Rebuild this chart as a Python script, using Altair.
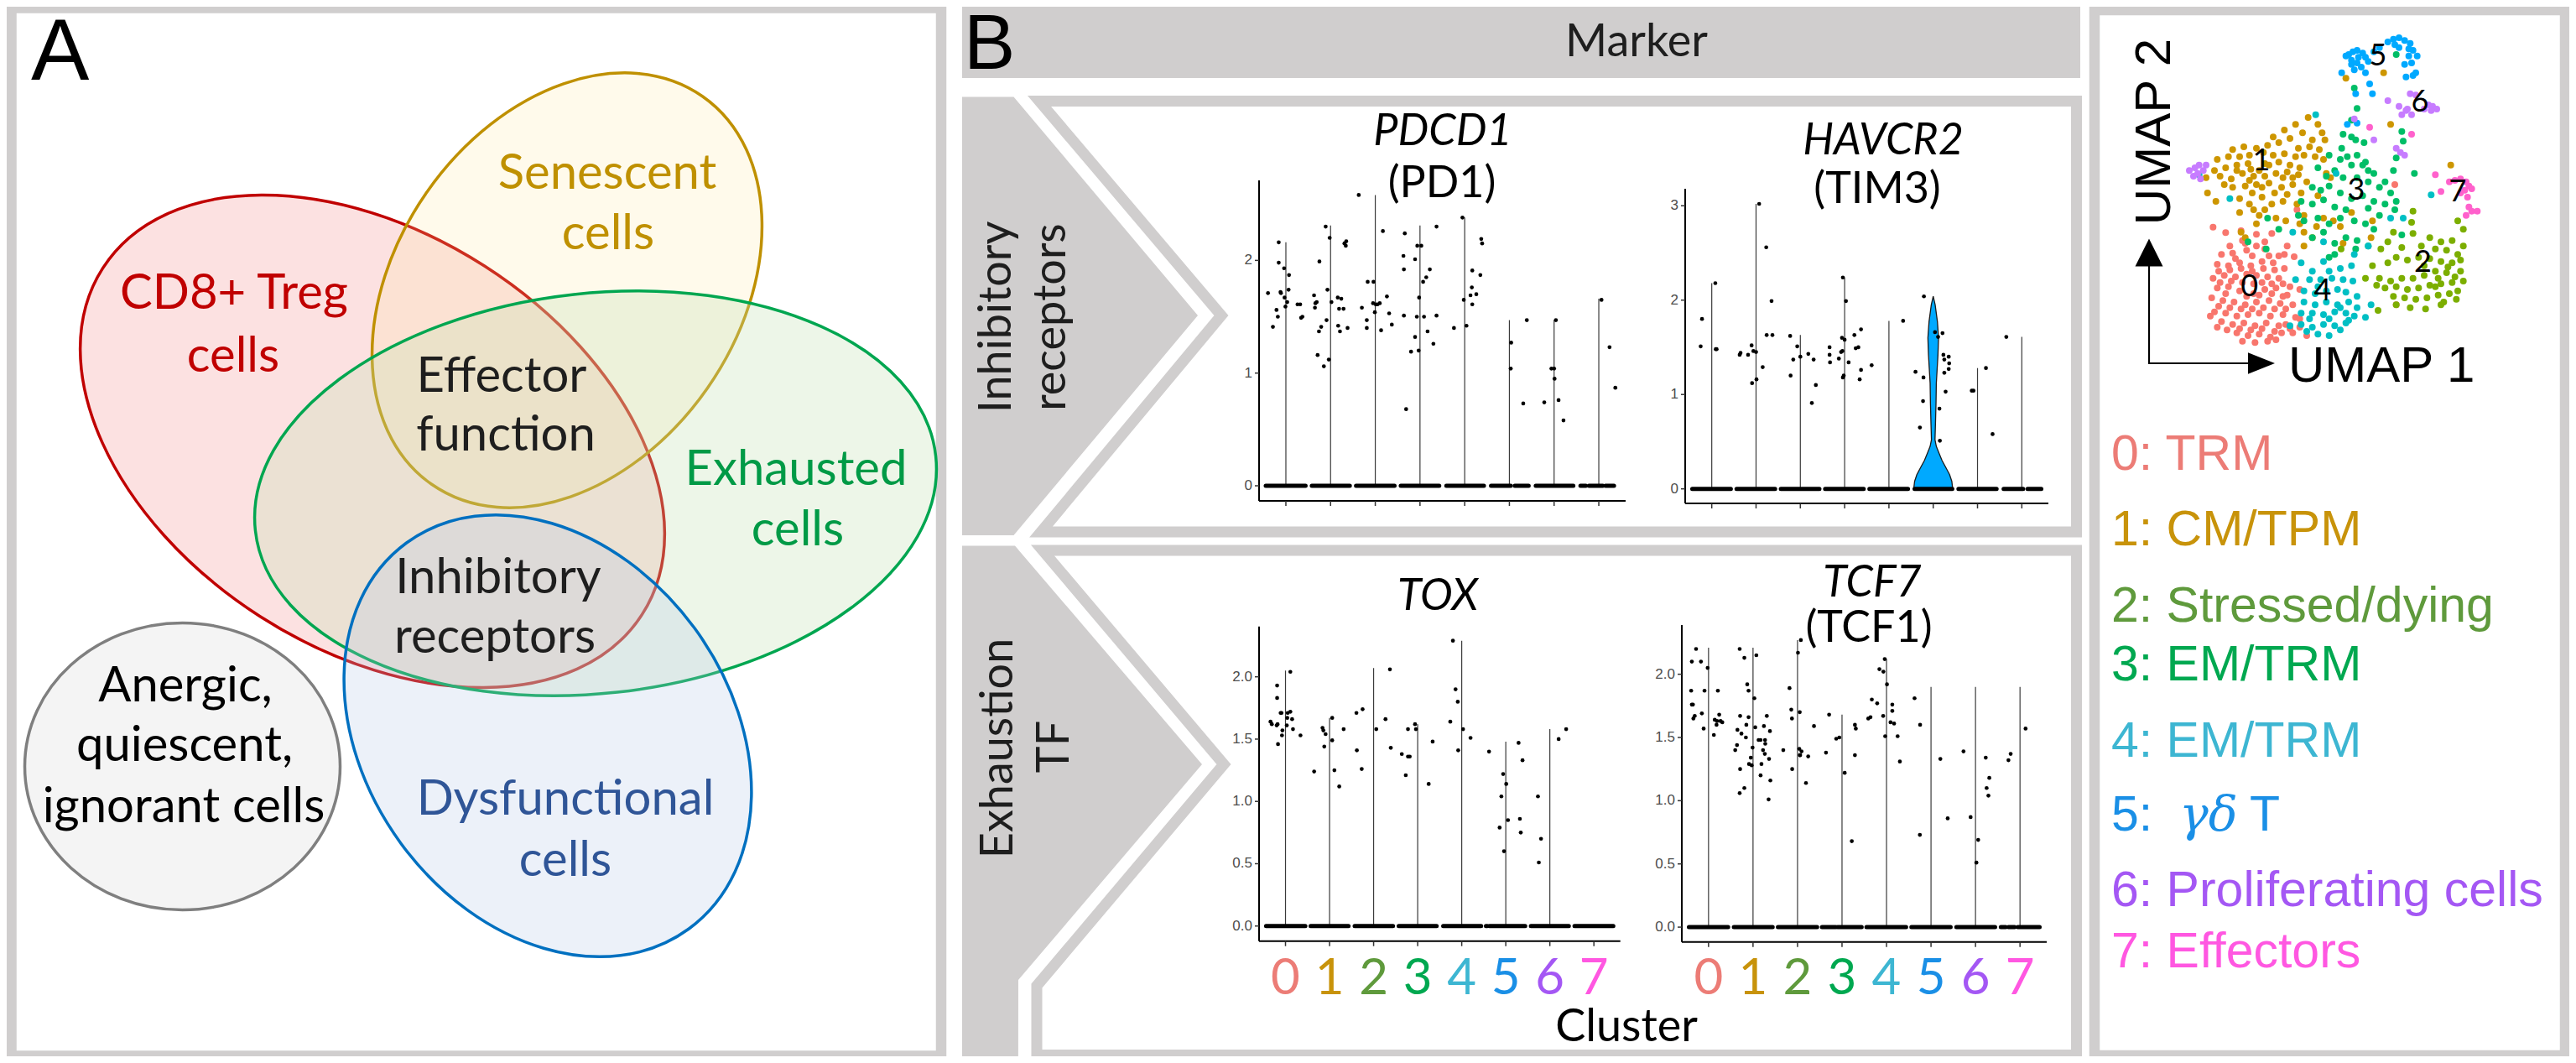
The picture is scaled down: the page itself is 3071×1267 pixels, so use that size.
import altair as alt
import pandas as pd

# ------------------------------------------------------------------ data
CLUSTERS = [0, 1, 2, 3, 4, 5, 6, 7]
LEGEND_TEXT = ["0: TRM", "1: CM/TPM", "2: Stressed/dying", "3: EM/TRM", "4: EM/TRM",
               "5:", "6: Proliferating cells", "7: Effectors"]
POINT_COLORS = ["#F8766D", "#CD9600", "#7CAE00", "#00BE67", "#00BFC4", "#00A9FF", "#C77CFF", "#FF61CC"]
TEXT_COLORS = ["#EC7C76", "#C8930A", "#5F9A3C", "#00A850", "#3DB6D2", "#1A8FE6", "#A457F4", "#FF57E1"]

# violin tops (max expression per cluster) and jittered cells (jitter, value) per cluster
PDCD1_TOP = [2.16, 2.31, 2.58, 2.31, 2.38, 1.47, 1.47, 1.66]
PDCD1_PTS = [
    [(-0.40, 1.71), (-0.29, 1.41), (-0.21, 1.56), (-0.18, 1.50), (-0.16, 2.16), (-0.16, 1.98), (-0.12, 1.72),
     (-0.11, 1.71), (-0.04, 1.93), (-0.03, 1.67), (-0.01, 1.59), (0.03, 1.63), (0.06, 1.74), (0.07, 1.87),
     (0.26, 1.61), (0.32, 1.61), (0.34, 1.49), (0.37, 1.50)],
    [(-0.37, 1.69), (-0.35, 1.58), (-0.34, 1.62), (-0.31, 1.63), (-0.29, 1.16), (-0.25, 1.99), (-0.26, 1.37),
     (-0.21, 1.41), (-0.15, 1.06), (-0.11, 2.30), (-0.09, 1.47), (-0.07, 1.74), (-0.04, 1.12), (-0.02, 2.20),
     (0.02, 1.63), (0.16, 1.67), (0.17, 1.42), (0.19, 1.57), (0.21, 1.37), (0.24, 1.66), (0.29, 1.57),
     (0.31, 2.15), (0.35, 2.17), (0.34, 2.13), (0.38, 1.40)],
    [(-0.37, 2.58), (-0.30, 1.58), (-0.19, 1.47), (-0.19, 1.40), (-0.17, 1.81), (-0.04, 1.81), (-0.05, 1.62),
     (-0.01, 1.54), (0.01, 1.61), (0.05, 1.61), (0.10, 1.62), (0.13, 1.38), (0.17, 2.26), (0.26, 1.68),
     (0.31, 1.53), (0.37, 1.43)],
    [(-0.37, 2.04), (-0.36, 1.92), (-0.36, 1.51), (-0.34, 2.24), (-0.31, 0.68), (-0.20, 1.19), (-0.11, 2.01),
     (-0.11, 1.32), (-0.07, 1.50), (-0.03, 1.20), (-0.02, 1.67), (-0.06, 2.13), (0.03, 2.13), (0.07, 1.81),
     (0.09, 1.50), (0.14, 1.85), (0.17, 1.37), (0.22, 1.92), (0.30, 1.26), (0.37, 2.30), (0.37, 1.51)],
    [(-0.24, 1.40), (-0.05, 2.38), (-0.02, 1.65), (0.04, 1.42), (0.13, 1.69), (0.16, 1.76), (0.17, 1.91),
     (0.17, 1.61), (0.26, 1.70), (0.35, 1.87), (0.37, 2.19), (0.39, 2.15)],
    [(0.04, 1.27), (0.03, 1.04), (0.31, 0.73), (0.39, 1.47)],
    [(-0.22, 0.74), (-0.06, 1.04), (0.00, 1.04), (0.01, 0.95), (0.04, 1.47), (0.10, 0.76), (0.21, 0.58)],
    [(0.06, 1.65), (0.24, 1.23), (0.37, 0.87)],
]
PDCD1_ZERO = [[(-0.45, 0.44)], [(-0.42, 0.43)], [(-0.43, 0.43)], [(-0.43, 0.43)], [(-0.41, 0.43)],
              [(-0.41, 0.03), (0.12, 0.43)], [(-0.41, 0.43)], [(-0.41, -0.29), (-0.22, 0.09), (0.15, 0.34)]]

HAVCR2_TOP = [2.18, 3.02, 1.63, 2.24, 1.78, None, 1.28, 1.61]
HAVCR2_PTS = [
    [(-0.25, 1.51), (-0.22, 1.80), (0.08, 2.18), (0.09, 1.48), (0.11, 1.48)],
    [(-0.37, 1.42), (-0.35, 1.44), (-0.18, 1.42), (-0.10, 1.52), (-0.09, 1.12), (-0.06, 1.46), (0.00, 1.45),
     (0.01, 1.16), (0.07, 3.02), (0.15, 1.29), (0.23, 2.56), (0.24, 1.63), (0.35, 1.99), (0.37, 1.63)],
    [(-0.23, 1.62), (-0.22, 1.20), (-0.16, 1.37), (-0.07, 1.51), (0.00, 1.40), (0.18, 1.43), (0.26, 0.91),
     (0.30, 1.37), (0.35, 1.10)],
    [(-0.34, 1.50), (-0.34, 1.42), (-0.33, 1.34), (-0.13, 1.38), (-0.08, 1.45), (-0.05, 1.46), (-0.06, 1.60),
     (-0.04, 2.24), (-0.04, 1.18), (-0.02, 1.20), (0.00, 1.58), (0.03, 1.99), (0.09, 1.34), (0.22, 1.63),
     (0.25, 1.49), (0.31, 1.50), (0.34, 1.16), (0.37, 1.69), (0.37, 1.26)],
    [(-0.39, 1.31), (0.32, 1.78)],
    [(-0.40, 1.24), (-0.30, 0.65), (-0.23, 0.93), (-0.22, 1.18), (-0.21, 2.04), (0.04, 1.66), (0.11, 1.61),
     (0.14, 0.85), (0.15, 0.51), (0.21, 1.65), (0.23, 1.42), (0.25, 1.37), (0.25, 1.23), (0.28, 1.03),
     (0.35, 1.40), (0.36, 1.33), (0.35, 1.27)],
    [(-0.13, 1.04), (-0.09, 1.04), (0.19, 1.28), (0.34, 0.58)],
    [(-0.35, 1.61)],
]
HAVCR2_ZERO = [[(-0.44, 0.43)], [(-0.44, 0.43)], [(-0.44, 0.43)], [(-0.44, 0.43)], [(-0.44, 0.43)],
               [(-0.42, 0.43)], [(-0.43, 0.43)], [(-0.41, 0.03), (0.13, 0.44)]]
# visible violin of cluster 5 (HAVCR2): expression value and half width
HAVCR2_VIOLIN_V = [0, 0.08, 0.15, 0.23, 0.30, 0.38, 0.45, 0.52, 0.68, 0.91, 1.12, 1.42, 1.60, 1.77, 1.95, 2.04]
HAVCR2_VIOLIN_W = [0.44, 0.42, 0.37, 0.28, 0.20, 0.13, 0.07, 0.04, 0.05, 0.063, 0.07, 0.107, 0.12, 0.095, 0.044, 0.0]

TOX_TOP = [2.05, 1.67, 2.07, 1.62, 2.29, 1.48, 1.58, None]
TOX_PTS = [
    [(-0.34, 1.64), (-0.31, 1.62), (-0.20, 1.61), (-0.18, 1.62), (-0.19, 1.93), (-0.19, 1.83), (-0.17, 1.46),
     (-0.11, 1.71), (-0.09, 1.71), (-0.07, 1.57), (-0.08, 1.53), (0.03, 1.61), (0.04, 1.67), (0.05, 1.71),
     (0.11, 1.72), (0.11, 2.04), (0.15, 1.66), (0.17, 1.58), (0.34, 1.53)],
    [(-0.35, 1.24), (-0.16, 1.59), (-0.14, 1.57), (-0.12, 1.44), (-0.09, 1.54), (0.06, 1.67), (0.06, 1.49),
     (0.11, 1.25), (0.22, 1.12), (0.32, 1.58)],
    [(-0.38, 1.41), (-0.39, 1.71), (-0.27, 1.26), (-0.25, 1.74), (0.06, 1.58), (0.27, 1.66), (0.37, 2.06),
     (0.39, 1.43)],
    [(-0.36, 1.38), (-0.27, 1.21), (-0.22, 1.36), (-0.18, 1.36), (-0.22, 1.58), (-0.06, 1.62), (-0.04, 1.58),
     (0.25, 1.14), (0.34, 1.48)],
    [(-0.26, 1.64), (-0.20, 2.29), (-0.14, 1.90), (-0.09, 1.80), (-0.08, 1.41), (0.03, 1.58), (0.20, 1.51)],
    [(-0.38, 1.40), (-0.14, 0.79), (-0.10, 1.04), (-0.06, 1.22), (-0.04, 0.60), (0.01, 1.14), (0.05, 0.85),
     (0.29, 1.47), (0.32, 0.86), (0.34, 0.75), (0.38, 1.33)],
    [(-0.27, 1.04), (-0.25, 0.51), (-0.20, 0.70), (0.20, 1.50), (0.37, 1.58)],
    [],
]
TOX_ZERO = [[(-0.44, 0.45)], [(-0.43, 0.43)], [(-0.43, 0.44)], [(-0.43, 0.43)], [(-0.42, 0.44)],
            [(-0.45, -0.42), (-0.37, 0.44)], [(-0.43, 0.43)], [(-0.44, 0.44)]]

TCF7_TOP = [2.21, 2.21, 2.27, 1.68, 2.12, 1.90, 1.90, 1.90]
TCF7_PTS = [
    [(-0.39, 1.87), (-0.375, 2.10), (-0.375, 1.76), (-0.35, 1.76), (-0.34, 1.65), (-0.31, 1.67), (-0.28, 2.20),
     (-0.17, 2.10), (-0.15, 1.69), (-0.11, 1.57), (-0.09, 1.87), (-0.02, 2.05), (0.12, 1.52), (0.14, 1.64),
     (0.18, 1.60), (0.21, 1.87), (0.19, 1.63), (0.24, 1.68), (0.27, 1.63), (0.31, 1.62)],
    [(-0.40, 1.40), (-0.36, 1.44), (-0.35, 1.56), (-0.30, 2.20), (-0.29, 1.67), (-0.29, 1.25), (-0.30, 1.06),
     (-0.26, 1.53), (-0.195, 2.13), (-0.195, 1.10), (-0.16, 1.50), (-0.15, 1.60), (-0.13, 1.92), (-0.10, 1.87),
     (-0.10, 1.66), (-0.09, 1.29), (-0.05, 1.34), (-0.03, 1.28), (-0.01, 1.42), (0.03, 1.81), (0.05, 1.58),
     (0.075, 2.15), (0.125, 1.48), (0.17, 1.48), (0.17, 1.20), (0.19, 1.29), (0.225, 1.40), (0.245, 1.59),
     (0.265, 1.37), (0.27, 1.48), (0.275, 1.45), (0.31, 1.67), (0.36, 1.33), (0.38, 1.55), (0.39, 1.16),
     (0.35, 1.01)],
    [(-0.32, 1.40), (-0.18, 1.89), (-0.14, 1.72), (-0.125, 1.65), (-0.12, 1.25), (0.01, 2.17), (0.05, 1.70),
     (0.075, 2.27), (0.04, 1.41), (0.06, 1.36), (0.09, 1.39), (0.05, 1.36), (0.19, 1.14), (0.24, 1.35),
     (0.37, 1.59)],
    [(-0.36, 1.38), (-0.29, 1.68), (-0.13, 1.49), (-0.06, 1.50), (0.06, 1.22), (0.22, 0.68), (0.29, 1.60),
     (0.31, 1.57), (0.29, 1.36)],
    [(-0.41, 1.65), (-0.36, 1.66), (-0.33, 1.80), (-0.21, 1.77), (-0.16, 2.04), (-0.07, 2.02), (-0.075, 1.67),
     (-0.04, 2.12), (-0.03, 1.51), (0.01, 1.92), (0.09, 1.62), (0.13, 1.76), (0.13, 1.71), (0.17, 1.61),
     (0.25, 1.51), (0.30, 1.31)],
    [(-0.37, 1.81), (-0.25, 0.73), (-0.245, 1.60), (0.21, 1.33), (0.375, 0.86)],
    [(-0.27, 1.39), (-0.11, 0.87), (0.02, 0.51), (0.06, 0.69), (0.23, 1.34), (0.25, 1.10), (0.29, 1.04),
     (0.31, 1.18)],
    [(-0.26, 1.32), (-0.21, 1.37), (0.125, 1.57)],
]
TCF7_ZERO = [[(-0.44, 0.44)], [(-0.43, 0.44)], [(-0.44, 0.44)], [(-0.45, -0.14), (-0.10, 0.44)],
             [(-0.45, 0.44)], [(-0.44, 0.44)], [(-0.43, 0.44)], [(-0.43, -0.32), (-0.26, -0.12), (-0.05, 0.44)]]

# UMAP embedding, positions (x right, y down, arbitrary units)
UMAP_0 = [(145, 722), (190, 742), (245, 735), (300, 748), (355, 745), (410, 790), (175, 820), (215, 815), (265, 805),
          (300, 790), (330, 800), (380, 825), (435, 828), (160, 855), (200, 860), (240, 850), (280, 860), (320, 845),
          (360, 850), (400, 870), (145, 905), (185, 895), (225, 900), (265, 890), (300, 895), (340, 900), (380, 905),
          (420, 935), (160, 940), (200, 935), (240, 950), (290, 960), (330, 945), (370, 940), (410, 965), (140, 975),
          (180, 985), (220, 990), (260, 1000), (300, 990), (345, 985), (385, 995), (430, 1000), (150, 1025),
          (190, 1030), (230, 1040), (270, 1035), (310, 1030), (350, 1040), (395, 1035), (440, 1045), (175, 1060),
          (215, 1070), (255, 1065), (295, 1075), (335, 1065), (380, 1075), (420, 1085), (230, 1100), (270, 1110),
          (310, 1105), (350, 1115), (390, 1100), (430, 1100), (480, 1110), (250, 1130), (295, 1135), (340, 1130),
          (370, 1125), (205, 790), (250, 770), (400, 820), (795, 570), (800, 1000), (445, 660), (455, 945),
          (165, 880), (205, 875), (245, 870), (285, 880), (325, 870), (365, 875), (170, 920), (210, 915), (250, 920),
          (290, 925), (320, 920), (355, 925), (395, 925), (165, 1005), (205, 1010), (245, 1015), (285, 1015),
          (325, 1010), (365, 1015), (405, 1015), (195, 1090), (240, 1085), (280, 1090), (320, 1085), (365, 1095),
          (405, 1070), (285, 825), (345, 825), (225, 835), (190, 960), (265, 970), (310, 965), (355, 960),
          (395, 970), (135, 1040), (160, 1080), (455, 1080), (455, 1050), (260, 780), (330, 775)]
UMAP_1 = [(485, 330), (520, 355), (440, 355), (400, 375), (465, 385), (535, 385), (360, 400), (420, 405), (500, 410),
          (545, 410), (215, 445), (255, 435), (300, 440), (340, 430), (380, 420), (450, 440), (490, 435), (525, 445),
          (160, 480), (200, 470), (240, 470), (275, 465), (325, 455), (360, 465), (400, 460), (440, 470), (470, 465),
          (510, 470), (150, 520), (190, 510), (230, 500), (270, 495), (310, 520), (345, 500), (380, 490), (420, 500),
          (455, 510), (120, 545), (170, 540), (210, 550), (250, 530), (290, 540), (330, 540), (370, 530), (410, 525),
          (450, 535), (540, 480), (125, 600), (155, 630), (215, 580), (260, 575), (300, 570), (345, 565), (390, 580),
          (430, 570), (480, 560), (520, 610), (240, 620), (285, 600), (320, 615), (355, 640), (395, 630), (460, 600),
          (550, 530), (565, 545), (240, 670), (290, 660), (330, 660), (370, 690), (405, 700), (300, 710), (455, 710),
          (470, 740), (470, 790), (500, 760), (540, 690), (575, 700), (600, 720), (610, 780), (640, 670), (710, 760),
          (715, 700), (260, 760), (245, 740), (995, 500), (755, 170), (620, 190), (780, 355), (230, 520), (280, 515),
          (330, 495), (395, 545), (430, 545), (185, 570), (275, 555), (320, 580), (365, 600), (410, 605), (445, 640),
          (275, 640), (310, 680), (470, 680), (515, 720)]
UMAP_2 = [(860, 665), (855, 705), (860, 745), (1020, 700), (1040, 730), (790, 740), (770, 775), (820, 795), (745, 800),
          (920, 760), (960, 775), (1000, 770), (1040, 790), (890, 790), (940, 800), (980, 805), (1020, 820), (715, 860),
          (770, 850), (800, 830), (840, 840), (880, 830), (920, 835), (960, 845), (1000, 850), (1030, 840), (690, 905),
          (740, 905), (780, 915), (820, 905), (860, 905), (900, 895), (940, 880), (980, 885), (1030, 880), (730, 930),
          (760, 940), (800, 935), (840, 945), (880, 940), (920, 930), (960, 925), (1000, 920), (1040, 915), (790, 970),
          (830, 975), (870, 980), (910, 975), (950, 965), (990, 960), (1020, 950), (800, 1000), (850, 1010),
          (905, 1015), (960, 1000), (735, 1020), (603, 800), (985, 865), (1010, 900), (950, 905), (900, 860),
          (1015, 980), (940, 935), (970, 990)]
UMAP_3 = [(650, 225), (660, 298), (640, 340), (655, 410), (685, 420), (640, 400), (610, 390), (605, 440), (625, 470),
          (660, 465), (690, 490), (700, 520), (560, 465), (600, 480), (640, 500), (680, 500), (720, 530), (760, 560),
          (790, 520), (800, 475), (820, 380), (865, 530), (520, 510), (550, 540), (580, 520), (610, 545), (660, 545),
          (700, 560), (740, 580), (780, 600), (800, 630), (500, 580), (530, 590), (560, 575), (600, 600), (640, 620),
          (680, 610), (720, 630), (760, 640), (795, 660), (460, 630), (500, 640), (540, 625), (580, 650), (620, 660),
          (700, 655), (740, 680), (450, 680), (470, 700), (520, 690), (560, 710), (600, 690), (650, 700), (690, 710),
          (720, 730), (500, 760), (540, 740), (580, 780), (620, 760), (660, 770), (700, 790), (340, 690), (270, 775),
          (335, 800), (380, 730), (820, 750), (655, 800), (560, 830), (580, 820), (800, 105), (825, 415)]
UMAP_4 = [(540, 775), (540, 845), (460, 850), (500, 880), (560, 880), (600, 870), (640, 860), (440, 910), (490, 910),
          (530, 910), (570, 905), (610, 910), (645, 915), (470, 950), (510, 960), (550, 950), (590, 945), (620, 955),
          (660, 970), (470, 990), (510, 1000), (550, 990), (590, 1000), (630, 990), (660, 1010), (460, 1030),
          (500, 1030), (540, 1035), (580, 1025), (620, 1030), (650, 1040), (690, 1045), (710, 1000), (420, 1075),
          (460, 1070), (500, 1080), (540, 1070), (580, 1075), (620, 1065), (560, 1110), (520, 1105), (480, 1095),
          (600, 1010), (520, 935), (780, 690), (825, 690), (925, 607), (205, 620), (95, 535), (512, 320), (585, 530),
          (700, 790), (650, 820), (430, 740), (490, 1050), (560, 1050), (630, 1055), (600, 1090)]
UMAP_5 = [(630, 105), (645, 95), (660, 90), (680, 100), (690, 115), (700, 130), (640, 125), (660, 135), (675, 150),
          (690, 170), (705, 210), (715, 245), (790, 50), (810, 45), (830, 55), (850, 65), (860, 90), (875, 110),
          (845, 110), (830, 140), (855, 135), (835, 185), (860, 180), (870, 170), (605, 170), (620, 110), (650, 160),
          (655, 245), (625, 355), (660, 350), (740, 80), (720, 95), (810, 80), (770, 60), (795, 70), (845, 85),
          (640, 140), (665, 115)]
UMAP_6 = [(850, 245), (870, 250), (915, 285), (930, 290), (945, 300), (925, 305), (900, 300), (840, 300), (855, 320),
          (820, 320), (835, 305), (810, 290), (770, 270), (720, 410), (800, 440), (815, 455), (830, 465), (650, 335),
          (60, 520), (80, 510), (95, 500), (120, 500), (75, 540), (100, 550), (90, 530), (110, 520)]
UMAP_7 = [(990, 560), (1010, 555), (1030, 550), (1050, 560), (1060, 575), (1045, 590), (1070, 585), (1030, 600),
          (1055, 615), (1050, 680), (1070, 665), (1090, 665), (1060, 650), (940, 535), (960, 595), (705, 365),
          (855, 390)]
UMAP_CELLS = [UMAP_0, UMAP_1, UMAP_2, UMAP_3, UMAP_4, UMAP_5, UMAP_6, UMAP_7]
UMAP_LABEL_POS = [(275, 935), (318, 485), (895, 850), (657, 590), (537, 950), (735, 110), (885, 275), (1020, 598)]

# ------------------------------------------------------------------ layout (image pixels)
W, H, M = 3055, 1251, 8
GREY = "#D0CECE"
CX = alt.Scale(domain=[M, M + W], range=[0, W], nice=False, zero=False)
CY = alt.Scale(domain=[M, M + H], range=[0, H], nice=False, zero=False)


def XC(f):
    return alt.X(f, type="quantitative", scale=CX, axis=None)


def YC(f):
    return alt.Y(f, type="quantitative", scale=CY, axis=None)


VLAY = {
    "PDCD1": dict(x0=1501, x1=1938, yb=597, yt=215, vb=-0.134, vt=2.71, ticks=[0, 1, 2], labs=["0", "1", "2"]),
    "HAVCR2": dict(x0=2009, x1=2442, yb=600, yt=225, vb=-0.154, vt=3.18, ticks=[0, 1, 2, 3],
                   labs=["0", "1", "2", "3"]),
    "TOX": dict(x0=1501, x1=1931.7, yb=1121.7, yt=746.7, vb=-0.121, vt=2.404, ticks=[0, 0.5, 1, 1.5, 2],
                labs=["0.0", "0.5", "1.0", "1.5", "2.0"]),
    "TCF7": dict(x0=2005, x1=2440, yb=1122.7, yt=745, vb=-0.117, vt=2.389, ticks=[0, 0.5, 1, 1.5, 2],
                 labs=["0.0", "0.5", "1.0", "1.5", "2.0"]),
}


def violin(tops, pts, zeros, lay, viol=None, digits=False):
    xs = alt.Scale(domain=[-0.6, 7.6], range=[lay["x0"] - M, lay["x1"] - M], nice=False, zero=False)
    ys = alt.Scale(domain=[lay["vb"], lay["vt"]], range=[lay["yb"] - M, lay["yt"] - M], nice=False, zero=False)
    pxx = (lay["x1"] - lay["x0"]) / 8.2
    pxy = (lay["yb"] - lay["yt"]) / (lay["vt"] - lay["vb"])

    def X(f):
        return alt.X(f, type="quantitative", scale=xs, axis=None)

    def Y(f):
        return alt.Y(f, type="quantitative", scale=ys, axis=None)

    lines = pd.DataFrame([dict(c=c, lo=0.0, top=t) for c, t in zip(CLUSTERS, tops) if t is not None])
    zr = pd.DataFrame([dict(a=c + lo, b=c + hi, z=0.0) for c, segs in zip(CLUSTERS, zeros) for lo, hi in segs])
    pr = pd.DataFrame([dict(xp=c + j, v=v) for c, lst in zip(CLUSTERS, pts) for j, v in lst])
    layers = [alt.Chart(lines).mark_rule(color="#3a3a3a", strokeWidth=1.2).encode(
        x=X("c"), y=Y("lo"), y2=alt.Y2("top"))]
    if viol is not None:
        c5, vv, ww = viol
        vdf = pd.DataFrame(dict(v=vv, lo=[c5 - w for w in ww], hi=[c5 + w for w in ww]))
        layers.append(alt.Chart(vdf).mark_area(orient="horizontal", color="#00A9FF", stroke="#1a1a1a",
                                               strokeWidth=1.3, opacity=1).encode(
            y=Y("v"), x=X("lo"), x2=alt.X2("hi")))
    layers.append(alt.Chart(zr).mark_rule(color="black", strokeWidth=5, strokeCap="round").encode(
        x=X("a"), x2=alt.X2("b"), y=Y("z")))
    layers.append(alt.Chart(pr).mark_circle(color="black", size=22, opacity=1).encode(x=X("xp"), y=Y("v")))
    ax = pd.DataFrame([dict(x=-0.6, x2=7.6, y=lay["vb"], y2=lay["vb"]),
                       dict(x=-0.6, x2=-0.6, y=lay["vb"], y2=lay["vt"])])
    layers.append(alt.Chart(ax).mark_rule(color="black", strokeWidth=2).encode(
        x=X("x"), x2=alt.X2("x2"), y=Y("y"), y2=alt.Y2("y2")))
    xt = pd.DataFrame(dict(c=CLUSTERS, y=[lay["vb"]] * 8, y2=[lay["vb"] - 6 / pxy] * 8))
    layers.append(alt.Chart(xt).mark_rule(color="#333333", strokeWidth=1.5).encode(
        x=X("c"), y=Y("y"), y2=alt.Y2("y2")))
    yt = pd.DataFrame(dict(t=lay["ticks"], lab=lay["labs"]))
    yt["x"] = -0.6
    yt["x2"] = -0.6 - 5 / pxx
    layers.append(alt.Chart(yt).mark_rule(color="#333333", strokeWidth=1.5).encode(
        x=X("x"), x2=alt.X2("x2"), y=Y("t")))
    layers.append(alt.Chart(yt).mark_text(font="Liberation Sans", fontSize=17, align="right",
                                          baseline="middle", color="#4D4D4D").encode(
        x=alt.value(lay["x0"] - M - 8), y=Y("t"), text="lab:N"))
    if digits:
        dg = pd.DataFrame(dict(c=CLUSTERS, lab=[str(c) for c in CLUSTERS], col=TEXT_COLORS))
        layers.append(alt.Chart(dg).mark_text(font="Lato", fontSize=60, align="center",
                                              baseline="alphabetic").encode(
            x=X("c"), y=alt.value(1185 - M), text="lab:N", color=alt.Color("col:N", scale=None)))
    return alt.layer(*layers)


v_pd1 = violin(PDCD1_TOP, PDCD1_PTS, PDCD1_ZERO, VLAY["PDCD1"])
v_hav = violin(HAVCR2_TOP, HAVCR2_PTS, HAVCR2_ZERO, VLAY["HAVCR2"], viol=(5, HAVCR2_VIOLIN_V, HAVCR2_VIOLIN_W))
v_tox = violin(TOX_TOP, TOX_PTS, TOX_ZERO, VLAY["TOX"], digits=True)
v_tcf = violin(TCF7_TOP, TCF7_PTS, TCF7_ZERO, VLAY["TCF7"], digits=True)

# ---------------- UMAP (crop of the picture: x 2590..2970, y 30..410 px)
um_rows = []
for c, cells in zip(CLUSTERS, UMAP_CELLS):
    for (px, py) in cells:
        um_rows.append(dict(u1=px / 100.0, u2=(1140 - py) / 100.0, col=POINT_COLORS[c]))
UX = alt.Scale(domain=[0, 11.4], range=[2590 - M, 2970 - M], nice=False, zero=False)
UY = alt.Scale(domain=[0, 11.4], range=[410 - M, 30 - M], nice=False, zero=False)
umap = alt.Chart(pd.DataFrame(um_rows)).mark_circle(size=64, opacity=1).encode(
    x=alt.X("u1:Q", scale=UX, axis=None), y=alt.Y("u2:Q", scale=UY, axis=None),
    color=alt.Color("col:N", scale=None))

# ---------------- decorations
frames = pd.DataFrame([dict(x1=13.5, y1=9.5, x2=1122, y2=1258.5), dict(x1=2497, y1=12, x2=3058, y2=1258)])
frame_l = alt.Chart(frames).mark_rect(fillOpacity=0, stroke=GREY, strokeWidth=12.5).encode(
    x=XC("x1"), x2=alt.X2("x2"), y=YC("y1"), y2=alt.Y2("y2"))
header = pd.DataFrame([dict(x1=1147, y1=5, x2=2480, y2=93)])
header_l = alt.Chart(header).mark_rect(color=GREY, opacity=1).encode(
    x=XC("x1"), x2=alt.X2("x2"), y=YC("y1"), y2=alt.Y2("y2"))
chev = pd.DataFrame([
    dict(s="r1", x=1147, y=115.5, y2=638), dict(s="r1", x=1208.5, y=115.5, y2=638),
    dict(s="r1", x=1428, y=376, y2=376),
    dict(s="r2", x=1147, y=650.5, y2=1262), dict(s="r2", x=1210, y=650.5, y2=1262),
    dict(s="r2", x=1213.9, y=655.1, y2=1262), dict(s="r2", x=1214, y=655.2, y2=1168),
    dict(s="r2", x=1433, y=911, y2=911)])
chev_l = alt.Chart(chev).mark_area(color=GREY, opacity=1).encode(
    x=XC("x"), y=YC("y"), y2=alt.Y2("y2"), detail="s:N")
band_pts = {
    "b1": [(1850, 120.5), (2475.5, 120.5), (2475.5, 634), (1241, 634), (1456, 376), (1239, 120.5), (1850, 120.5)],
    "b2": [(1850, 656), (2475.5, 656), (2475.5, 1257.5), (1236, 1257.5), (1236, 1175), (1459, 911), (1243, 656),
           (1850, 656)],
}
band = pd.DataFrame([dict(b=k, o=i, x=p[0], y=p[1]) for k, v in band_pts.items() for i, p in enumerate(v)])
band_l = alt.Chart(band).mark_line(color=GREY, strokeWidth=13, strokeJoin="miter", strokeMiterLimit=10).encode(
    x=XC("x"), y=YC("y"), detail="b:N", order="o:Q")


def ell_path(r):
    k = 0.5523
    return (f"M 1 0 C 1 {k*r:.4f} {k:.4f} {r:.4f} 0 {r:.4f} "
            f"C {-k:.4f} {r:.4f} -1 {k*r:.4f} -1 0 "
            f"C -1 {-k*r:.4f} {-k:.4f} {-r:.4f} 0 {-r:.4f} "
            f"C {k:.4f} {-r:.4f} 1 {-k*r:.4f} 1 0 Z")


ELL = [  # cx, cy, semi-major, semi-minor, rotation, fill, fill opacity, stroke
    (444, 526, 382, 248, 32.7, "#F6A4A4", 0.33, "#C00000"),
    (676, 346, 282, 204, 304.9, "#FFE699", 0.2, "#BF9000"),
    (710, 588, 408, 238.5, 353.75, "#C5E0B4", 0.3, "#00A650"),
    (653, 877, 285, 217, 53.8, "#B4C7E7", 0.25, "#0070C0"),
    (217.5, 913.5, 188, 171, 0.0, "#D9D9D9", 0.3, "#7F7F7F"),
]
ell = pd.DataFrame([dict(cx=e[0], cy=e[1], size=4 * e[2] ** 2, path=ell_path(e[3] / e[2]), ang=e[4],
                         fill=e[5], fo=e[6], stroke=e[7], o=i) for i, e in enumerate(ELL)])
ell_l = alt.Chart(ell).mark_point(opacity=1, strokeWidth=3.5).encode(
    x=XC("cx"), y=YC("cy"), shape=alt.Shape("path:N", scale=None), size=alt.Size("size:Q", scale=None),
    angle=alt.Angle("ang:Q", scale=None), fill=alt.Fill("fill:N", scale=None),
    fillOpacity=alt.FillOpacity("fo:Q", scale=None), stroke=alt.Stroke("stroke:N", scale=None),
    order=alt.Order("o:Q"))


def texts(rows, font, size, style="normal", align="center", baseline="alphabetic", angle=0, weight="normal"):
    df = pd.DataFrame(rows, columns=["t", "x", "y", "c"])
    return alt.Chart(df).mark_text(font=font, fontSize=size, fontStyle=style, align=align, baseline=baseline,
                                   angle=angle, fontWeight=weight).encode(
        x=XC("x"), y=YC("y"), text="t:N", color=alt.Color("c:N", scale=None))


INK = "#1E1E1E"
venn_t = texts([
    ("Senescent", 724, 225, "#BF9000"), ("cells", 725, 297, "#BF9000"),
    ("CD8+ Treg", 279, 368, "#C00000"), ("cells", 278, 443, "#C00000"),
    ("Effector", 598, 467, INK), ("function", 603, 537, INK),
    ("Exhausted", 949, 578, "#009A46"), ("cells", 951, 650, "#009A46"),
    ("Inhibitory", 594, 707, INK), ("receptors", 590, 778, INK),
    ("Anergic,", 221, 836, "#000000"), ("quiescent,", 220, 907, "#000000"),
    ("ignorant cells", 219, 980, "#000000"),
    ("Dysfunctional", 674, 971, "#2F5597"), ("cells", 674, 1044, "#2F5597"),
], "Lato", 58)
panel_a = texts([("A", 37, 95, "#000000")], "Liberation Sans", 104, align="left")
panel_b = texts([("B", 1149, 82, "#000000")], "Liberation Sans", 92, align="left")
marker_t = texts([("Marker", 1951, 67, INK), ("Cluster", 1939, 1241, "#000000")], "Lato", 54)
chev_t = texts([("Inhibitory", 1205, 378, INK), ("receptors", 1270, 378, INK),
                ("Exhaustion", 1207, 892, INK), ("TF", 1274, 890, INK)], "Lato", 54, angle=270)
gene_t = texts([("PDCD1", 1720, 173, "#000000"), ("HAVCR2", 2245, 184, "#000000"),
                ("TOX", 1714, 727, "#000000"), ("TCF7", 2232, 711, "#000000")], "Lato", 52, style="italic")
prot_t = texts([("(PD1)", 1719, 235, "#000000"), ("(TIM3)", 2238, 242, "#000000"),
                ("(TCF1)", 2228, 765, "#000000")], "Lato", 52)
LEG_Y = [560, 650, 741, 811, 902, 990, 1080, 1153]
leg_t = texts([(t, 2517, y, c) for t, y, c in zip(LEGEND_TEXT, LEG_Y, TEXT_COLORS)] +
              [("T", 2682, 990, TEXT_COLORS[5])], "Liberation Sans", 59, align="left")
greek_t = texts([("γδ", 2598, 990, TEXT_COLORS[5])], "DejaVu Serif", 58, style="italic", align="left")
umap_ax_t = texts([("UMAP 1", 2728, 455, "#000000")], "Liberation Sans", 60, align="left")
umap_ax2_t = texts([("UMAP 2", 2587, 157, "#000000")], "Liberation Sans", 60, angle=270)
umap_num_t = texts([(str(c), 2590 + p[0] / 3, 30 + p[1] / 3, "#000000") for c, p in zip(CLUSTERS, UMAP_LABEL_POS)],
                   "Lato", 36, baseline="middle")
arrows = pd.DataFrame([dict(x=2562, y=317, x2=2562, y2=434), dict(x=2561, y=433, x2=2681, y2=433)])
arrow_l = alt.Chart(arrows).mark_rule(color="black", strokeWidth=2.2).encode(
    x=XC("x"), x2=alt.X2("x2"), y=YC("y"), y2=alt.Y2("y2"))
heads = pd.DataFrame([dict(x=2562, y=301, p="M 0 -1 L 1 1 L -1 1 Z", s=33 ** 2),
                      dict(x=2696, y=433, p="M 1 0 L -1 -0.8 L -1 0.8 Z", s=32 ** 2)])
head_l = alt.Chart(heads).mark_point(filled=True, opacity=1, color="black", strokeWidth=0).encode(
    x=XC("x"), y=YC("y"), shape=alt.Shape("p:N", scale=None), size=alt.Size("s:Q", scale=None))

decor = alt.layer(frame_l, header_l, chev_l, band_l, ell_l, venn_t, panel_a, panel_b, marker_t, chev_t, gene_t,
                  prot_t, leg_t, greek_t, umap_ax_t, umap_ax2_t, umap_num_t, arrow_l, head_l)

chart = alt.layer(v_pd1, v_hav, v_tox, v_tcf, umap, decor).resolve_scale(
    x="independent", y="independent").properties(
    width=W, height=H, padding=0, autosize=alt.AutoSizeParams(type="none"),
    background="white").configure_view(stroke=None)

chart.save("out.html", embed_options={"renderer": "svg", "actions": False})
